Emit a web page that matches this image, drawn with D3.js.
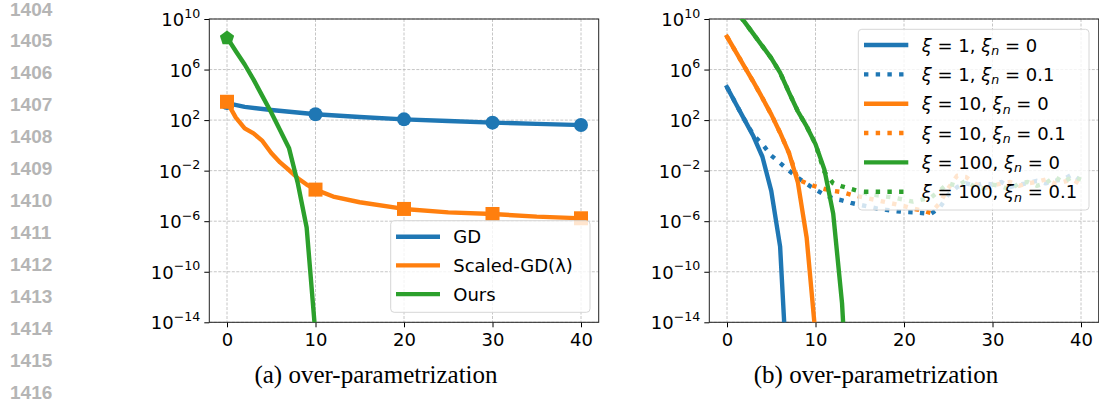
<!DOCTYPE html>
<html>
<head>
<meta charset="utf-8">
<script src="https://cdn.jsdelivr.net/npm/d3@7"></script>
<style>
  body { margin: 0; background: #fff; }
  svg { display: block; }
</style>
</head>
<body>
<svg id="chart" width="1099" height="402"></svg>
<script>
// ---- data (values are log10 of the error) ----
const lineNumbers = ["1404", "1405", "1406", "1407", "1408", "1409", "1410", "1411", "1412", "1413", "1414", "1415", "1416"];
const xTicks = [0, 10, 20, 30, 40];
const yTickExp = [10, 6, 2, -2, -6, -10, -14];
const captions = ["(a) over-parametrization", "(b) over-parametrization"];

// panel (a)
const gdIters = [0, 2, 5, 10, 15, 20, 25, 30, 35, 40];
const gdLog = [3.35, 3.05, 2.8, 2.46, 2.25, 2.06, 1.93, 1.8, 1.7, 1.61];
const scaledIters = [0, 1, 2, 3, 4, 5, 6, 7, 8, 9, 10, 12, 15, 20, 25, 30, 35, 40];
const scaledLog = [3.45, 2.2, 1.35, 0.95, 0.35, -0.6, -1.35, -1.95, -2.6, -3.1, -3.5, -4.05, -4.5, -5.03, -5.3, -5.43, -5.64, -5.77];
const oursIters = [0, 1, 2, 3, 4, 5, 6, 7, 8, 9, 10];
const oursLog = [8.55, 7.45, 6.4, 5.2, 3.9, 2.6, 1.2, -0.2, -3.0, -6.5, -15];
const leftNames = ["GD", "Scaled-GD(λ)", "Ours"];

// panel (b)
const xi1Iters = [0, 1, 2, 3, 4, 5, 6, 7];
const xi1Log = [4.6, 3.3, 2.0, 0.7, -0.9, -3.6, -8.0, -21];
const xi1NoisyIters = d3.range(0, 41);
const xi1NoisyLog = [4.6, 3.3, 2.0, 0.8, 0.1, -0.8, -1.4, -2.0, -2.55, -3.05, -3.5, -3.9, -4.2, -4.35, -4.55, -4.7, -4.85, -5.0, -5.1, -5.2, -5.27, -5.3, -5.35, -5.43, -4.97, -3.9, -3.3, -3.0, -3.2, -3.0, -3.1, -2.9, -3.3, -3.1, -3.0, -2.8, -3.0, -2.8, -2.7, -2.3, -2.8];
const xi10Iters = [0, 1, 2, 3, 4, 5, 6, 7, 8, 9, 10];
const xi10Log = [8.6, 7.4, 6.2, 5.0, 3.75, 2.45, 1.0, -0.6, -2.9, -7.3, -15];
const xi10NoisyIters = d3.range(0, 41);
const xi10NoisyLog = [8.6, 7.4, 6.2, 5.0, 3.75, 2.45, 1.0, -0.6, -2.7, -3.0, -3.25, -3.45, -3.6, -3.7, -3.9, -4.05, -4.2, -4.35, -4.5, -4.65, -4.8, -5.0, -5.15, -5.35, -4.6, -3.4, -2.4, -2.5, -3.0, -3.4, -3.2, -3.0, -2.9, -3.2, -3.0, -2.9, -2.7, -3.0, -2.9, -2.7, -3.1];
const xi100Iters = [0, 1, 2, 3, 4, 5, 6, 7, 8, 9, 10, 11, 12, 13, 14];
const xi100Log = [11.6, 10.65, 9.75, 8.8, 7.85, 6.9, 5.75, 4.2, 2.7, 1.5, 0.1, -1.9, -5.4, -12.5, -25];
const xi100NoisyIters = d3.range(0, 41);
const xi100NoisyLog = [11.6, 10.65, 9.75, 8.8, 7.85, 6.9, 5.75, 4.2, 2.7, 1.5, 0.1, -2.1, -3.0, -3.25, -3.45, -3.65, -3.85, -3.95, -4.05, -4.15, -4.3, -4.45, -4.3, -4.15, -3.6, -3.0, -3.2, -2.8, -3.3, -3.4, -3.1, -3.25, -3.5, -3.0, -2.9, -3.2, -3.0, -2.5, -2.9, -2.5, -2.7];
const rightNames = [
  ["1", "0"], ["1", "0.1"], ["10", "0"], ["10", "0.1"], ["100", "0"], ["100", "0.1"]
];

const blue = "#1f77b4", orange = "#ff7f0e", green = "#2ca02c";
const font = "'DejaVu Sans', sans-serif";

const svg = d3.select("#chart");

// line numbers of the page margin
svg.append("g").selectAll("text").data(lineNumbers).enter()
  .append("text")
  .attr("x", 10).attr("y", (d, i) => (i === 0 ? 9 : 40 + (i - 1) * 32) + 7)
  .attr("font-family", "'Liberation Sans', Arial, sans-serif")
  .attr("font-weight", "bold").attr("font-size", 19)
  .attr("fill", "#b5b5b5").text(d => d);

function makePanel(left, right) {
  const top = 19, bottom = 322.3;
  const x = d3.scaleLinear().domain([-2, 42]).range([left, right]);
  const y = d3.scaleLog().domain([1e-14, 1e10]).range([bottom, top]);
  const g = svg.append("g");
  const clipId = "clip" + Math.round(left);
  g.append("clipPath").attr("id", clipId).append("rect")
    .attr("x", left).attr("y", top).attr("width", right - left).attr("height", bottom - top);

  // grid
  g.append("g").selectAll("line").data(xTicks).enter().append("line")
    .attr("x1", d => x(d)).attr("x2", d => x(d)).attr("y1", top).attr("y2", bottom)
    .attr("stroke", "#b8b8b8").attr("stroke-width", 0.8).attr("stroke-dasharray", "3,1.5");
  g.append("g").selectAll("line").data(yTickExp).enter().append("line")
    .attr("x1", left).attr("x2", right).attr("y1", d => y(Math.pow(10, d))).attr("y2", d => y(Math.pow(10, d)))
    .attr("stroke", "#b8b8b8").attr("stroke-width", 0.8).attr("stroke-dasharray", "3,1.5");

  // axes
  const xAxis = g.append("g").attr("transform", `translate(0,${bottom})`)
    .call(d3.axisBottom(x).tickValues(xTicks).tickSize(5).tickPadding(6));
  const yAxis = g.append("g").attr("transform", `translate(${left},0)`)
    .call(d3.axisLeft(y).tickValues(yTickExp.map(e => Math.pow(10, e))).tickSize(5).tickPadding(5).tickFormat(""));
  xAxis.select(".domain").remove();
  yAxis.select(".domain").remove();
  xAxis.selectAll("text").attr("font-family", font).attr("font-size", 18).attr("fill", "#000");
  xAxis.selectAll("line").attr("stroke", "#000").attr("stroke-width", 1);
  yAxis.selectAll("line").attr("stroke", "#000").attr("stroke-width", 1);

  // y tick labels 10^k
  const lab = g.append("g").selectAll("text").data(yTickExp).enter().append("text")
    .attr("x", left - 9).attr("y", d => y(Math.pow(10, d)) + 7)
    .attr("text-anchor", "end").attr("font-family", font).attr("font-size", 18).attr("fill", "#000");
  lab.append("tspan").text("10");
  lab.append("tspan").attr("font-size", 12.6).attr("dy", -8.5)
    .text(d => (d < 0 ? "\u2212" + (-d) : "" + d));

  // frame
  g.append("rect").attr("x", left).attr("y", top).attr("width", right - left).attr("height", bottom - top)
    .attr("fill", "none").attr("stroke", "#222").attr("stroke-width", 1);

  const plot = g.append("g").attr("clip-path", `url(#${clipId})`);
  return { g, plot, x, y, top, bottom };
}

function drawLine(p, iters, logs, color, dotted) {
  const line = d3.line().x((d, i) => p.x(iters[i])).y(d => p.y(Math.pow(10, d)));
  p.plot.append("path").datum(logs)
    .attr("d", line).attr("fill", "none").attr("stroke", color).attr("stroke-width", 4.4)
    .attr("stroke-linejoin", "round")
    .attr("stroke-linecap", dotted ? "butt" : "square")
    .attr("stroke-dasharray", dotted ? "4.4,7.3" : null);
}

function markerPoints(iters, logs) {
  return iters.map((it, i) => ({ it, v: logs[i] })).filter(d => d.it % 10 === 0 && d.v >= -14);
}

// pentagon like matplotlib's "p" marker
function pentagon(r) {
  const pts = d3.range(5).map(k => {
    const a = -Math.PI / 2 + k * 2 * Math.PI / 5;
    return [r * Math.cos(a), r * Math.sin(a)];
  });
  return "M" + pts.map(p => p.join(",")).join("L") + "Z";
}

// ---- panel (a) ----
const pa = makePanel(209.3, 598.7);
drawLine(pa, gdIters, gdLog, blue, false);
pa.plot.append("g").selectAll("circle").data(markerPoints(gdIters, gdLog)).enter().append("circle")
  .attr("cx", d => pa.x(d.it)).attr("cy", d => pa.y(Math.pow(10, d.v))).attr("r", 7).attr("fill", blue);
drawLine(pa, scaledIters, scaledLog, orange, false);
pa.plot.append("g").selectAll("rect").data(markerPoints(scaledIters, scaledLog)).enter().append("rect")
  .attr("x", d => pa.x(d.it) - 7).attr("y", d => pa.y(Math.pow(10, d.v)) - 7)
  .attr("width", 14).attr("height", 14).attr("fill", orange);
drawLine(pa, oursIters, oursLog, green, false);
pa.plot.append("g").selectAll("path").data(markerPoints(oursIters, oursLog)).enter().append("path")
  .attr("transform", d => `translate(${pa.x(d.it)},${pa.y(Math.pow(10, d.v)) + 0.8})`)
  .attr("d", pentagon(7.5))
  .attr("fill", green);

// legend (a)
const la = pa.g.append("g");
la.append("rect").attr("x", 390.7).attr("y", 220.7).attr("width", 199.3).attr("height", 91.6)
  .attr("rx", 3.5).attr("fill", "#fff").attr("fill-opacity", 0.8).attr("stroke", "#d6d6d6");
[blue, orange, green].forEach((c, i) => {
  const yy = 236.7 + i * 28.7;
  la.append("line").attr("x1", 396).attr("x2", 440).attr("y1", yy).attr("y2", yy)
    .attr("stroke", c).attr("stroke-width", 4.4);
  la.append("text").attr("x", 453.3).attr("y", yy + 6.5).attr("font-family", font).attr("font-size", 18)
    .text(leftNames[i]);
});

// ---- panel (b) ----
const pb = makePanel(709.3, 1098.7);
drawLine(pb, xi1Iters, xi1Log, blue, false);
drawLine(pb, xi1NoisyIters, xi1NoisyLog, blue, true);
drawLine(pb, xi10Iters, xi10Log, orange, false);
drawLine(pb, xi10NoisyIters, xi10NoisyLog, orange, true);
drawLine(pb, xi100Iters, xi100Log, green, false);
drawLine(pb, xi100NoisyIters, xi100NoisyLog, green, true);

// legend (b)
const lb = pb.g.append("g");
lb.append("rect").attr("x", 858.3).attr("y", 29.3).attr("width", 230.7).attr("height", 180.7)
  .attr("rx", 3.5).attr("fill", "#fff").attr("fill-opacity", 0.8).attr("stroke", "#d6d6d6");
const rightColors = [blue, blue, orange, orange, green, green];
rightNames.forEach((nm, i) => {
  const yy = 45 + i * 29.35;
  lb.append("line").attr("x1", 864).attr("x2", 908.3).attr("y1", yy).attr("y2", yy)
    .attr("stroke", rightColors[i]).attr("stroke-width", 4.4)
    .attr("stroke-dasharray", i % 2 ? "4.4,7.3" : null);
  const t = lb.append("text").attr("x", 921.7).attr("y", yy + 6.5)
    .attr("font-family", font).attr("font-size", 18);
  t.append("tspan").attr("font-style", "italic").text("ξ");
  t.append("tspan").text(" = " + nm[0] + ", ");
  t.append("tspan").attr("font-style", "italic").text("ξ");
  t.append("tspan").attr("font-style", "italic").attr("font-size", 12.6).attr("dy", 3.5).text("n");
  t.append("tspan").attr("dy", -3.5).text(" = " + nm[1]);
});

// captions
svg.append("g").selectAll("text").data(captions).enter().append("text")
  .attr("x", (d, i) => [376, 876][i]).attr("y", 382.5)
  .attr("text-anchor", "middle").attr("font-family", "'Liberation Serif', 'Times New Roman', serif")
  .attr("font-size", 25).text(d => d);
</script>
</body>
</html>
